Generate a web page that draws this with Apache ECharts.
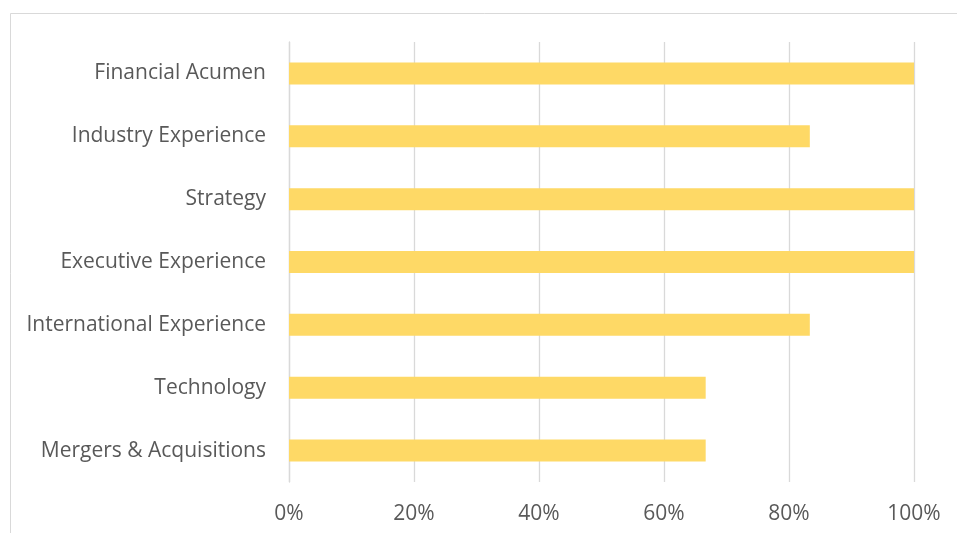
<!DOCTYPE html>
<html>
<head>
<meta charset="utf-8">
<script src="https://cdn.jsdelivr.net/npm/echarts@6/dist/echarts.min.js"></script>
<style>
html,body{margin:0;padding:0;background:#fff;}
#c{width:957px;height:533px;}
</style>
</head>
<body>
<div id="c"></div>
<script>
const categories = ["Financial Acumen","Industry Experience","Strategy","Executive Experience","International Experience","Technology","Mergers & Acquisitions"];
const values = [100, 83.33, 100, 100, 83.33, 66.67, 66.67];
const xTicks = [0, 20, 40, 60, 80, 100];

const chart = echarts.init(document.getElementById('c'), null, {renderer:'canvas'});
const font = '"Open Sans", sans-serif';
chart.setOption({
  animation: false,
  backgroundColor: '#fff',
  graphic: [{
    type: 'rect',
    shape: {x: 10.5, y: 13.5, width: 960, height: 540},
    style: {fill: 'none', stroke: '#d9d9d9', lineWidth: 1},
    silent: true
  }],
  grid: {left: 289, right: 43, top: 42, bottom: 51, containLabel: false},
  xAxis: {
    type: 'value', min: xTicks[0], max: xTicks[xTicks.length-1], interval: 20,
    axisLine: {show: false}, axisTick: {show: false},
    splitLine: {show: true, lineStyle: {color: '#d9d9d9', width: 1.3}},
    axisLabel: {formatter: '{value}%', color: '#595959', fontSize: 21, fontFamily: font, margin: 22}
  },
  yAxis: {
    type: 'category', data: categories, inverse: true,
    axisLine: {show: true, lineStyle: {color: '#d9d9d9', width: 1.3}},
    axisTick: {show: false},
    axisLabel: {color: '#595959', fontSize: 21, fontFamily: font, margin: 23, padding: [6, 0, 0, 0]}
  },
  series: [{
    type: 'bar', data: values, barWidth: 22,
    itemStyle: {color: '#FED966'}
  }]
});
</script>
</body>
</html>
